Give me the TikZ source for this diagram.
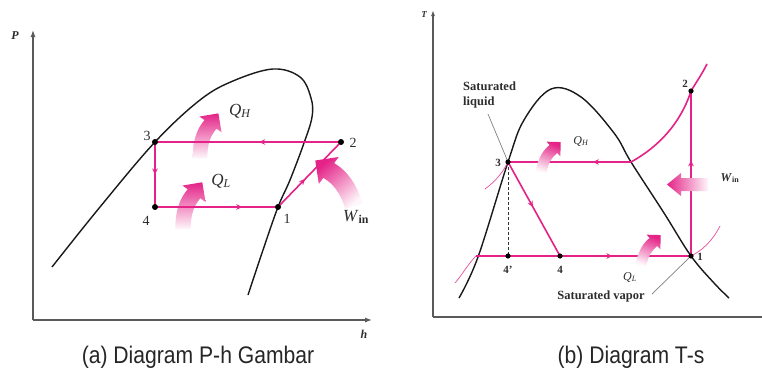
\documentclass[tikz,border=0pt]{standalone}
\usepackage{fontspec}
\setmainfont{Liberation Serif}
\newfontfamily\capfont[FakeStretch=0.88]{Liberation Sans}
\usetikzlibrary{arrows.meta,decorations.markings}
\definecolor{pk}{RGB}{228,34,135}
\definecolor{ink}{RGB}{45,45,45}
\definecolor{axisc}{RGB}{90,90,90}
\tikzset{
  cyc/.style={pk, line width=1.6pt},
  thinpk/.style={pk!80, line width=0.7pt},
  dome/.style={black!90, line width=1.4pt},
  axisline/.style={axisc, line width=1.2pt},
  midarr/.style={postaction={decorate}, decoration={markings, mark=at position #1 with {\arrow{Stealth[length=6pt,width=5.5pt]}}}},
  lab/.style={text=ink, inner sep=0pt, font=\fontsize{14}{16}\selectfont},
  labs/.style={text=ink, inner sep=0pt, font=\bfseries\fontsize{11}{13}\selectfont},
  capt/.style={text=black!85, inner sep=0pt, anchor=base, font=\capfont\fontsize{24}{28}\selectfont},
  leader/.style={gray, line width=0.7pt},
}
\newcommand\fatarr[5]{%
  \begin{scope}[shift={#1}, yscale=-1, rotate=#2, scale=#3, xscale=#4]
    \shade[top color=pk, bottom color=pk!4, shading angle=#5]
      (-7,0) .. controls (-7,20) and (-1,30) .. (4.3,36.1) -- (-0.5,39.5) -- (17.5,42.5)
      -- (20.5,24.5) -- (15.7,27.9) .. controls (10,21) and (7,14) .. (7,0) -- cycle;
  \end{scope}}
\newcommand\qsub[2]{\textit{#1}\textsubscript{\textit{#2}}}
\begin{document}
\begin{tikzpicture}[x=1pt, y=-1pt]
\useasboundingbox (0,0) rectangle (762,372);
\fill[white] (0,0) rectangle (762,372);

% ================= (a) P-h =================
\coordinate (oa) at (33,320);
\coordinate (pa) at (33,30);
\coordinate (ha) at (372,320);
\draw[axisline, -{Latex[length=7pt,width=5pt]}] (oa) -- (pa);
\draw[axisline, -{Latex[length=7pt,width=5pt]}] (oa) -- (ha);
\node[lab, font=\itshape\bfseries\fontsize{12}{14}\selectfont] (lP) at (15,36) {P};
\node[lab, font=\itshape\bfseries\fontsize{12}{14}\selectfont] (lh) at (364,334) {h};

\draw[dome] plot[smooth, tension=0.6] coordinates {(52,267) (100,207) (155,142) (200,100) (233,81) (273,69) (300,77) (311,98) (312,117) (304,143) (290,180) (278,207) (263,250) (248,295)};

\coordinate (a1) at (278,207);
\coordinate (a2) at (341,142);
\coordinate (a3) at (155,142);
\coordinate (a4) at (155,207);

\fatarr{(200,158)}{0}{1.05}{1}{0}
\fatarr{(183,229)}{0}{1.1}{1}{0}

\draw[cyc, midarr=0.44] (a2) -- (a3);
\draw[cyc, midarr=0.5] (a3) -- (a4);
\draw[cyc, midarr=0.71] (a4) -- (a1);
\draw[cyc, midarr=0.43] (a1) -- (a2);

\fatarr{(354,206)}{-18}{1.3}{-1}{40}

\foreach \p in {a1,a2,a3,a4} \fill[black] (\p) circle (3);

\node[lab] (la3) at (147,136) {3};
\node[lab] (la2) at (353,143) {2};
\node[lab] (la4) at (146,221) {4};
\node[lab] (la1) at (287,219) {1};
\node[lab, font=\fontsize{17}{19}\selectfont] (lQHa) at (240,111) {\qsub{Q}{H}};
\node[lab, font=\fontsize{17}{19}\selectfont] (lQLa) at (221,181) {\qsub{Q}{L}};
\node[lab, font=\fontsize{17}{19}\selectfont] (lWa) at (356,217) {\textit{W}\textsubscript{\textbf{in}}};

\node[capt] (capa) at (198,363) {(a) Diagram P-h Gambar};

% ================= (b) T-s =================
\coordinate (ob) at (433,317);
\coordinate (tb) at (433,10);
\coordinate (sb) at (762,317);
\draw[axisline, -{Latex[length=6pt,width=4pt]}] (ob) -- (tb);
\draw[axisline] (ob) -- (sb);
\node[lab, font=\itshape\bfseries\fontsize{9}{11}\selectfont] (lT) at (424,15) {T};

\draw[dome] plot[smooth, tension=0.6] coordinates {(459,298) (478,257) (508,162) (524,120) (551,89) (581,97) (614,133) (631,162) (664,213) (691,256) (714,283) (729,298)};

\coordinate (b1) at (691,256);
\coordinate (b2) at (691,91);
\coordinate (b3) at (508,162);
\coordinate (b4) at (560,256);
\coordinate (b4p) at (508,256);
\coordinate (bg) at (631,162);
\coordinate (bl) at (476,256);
\coordinate (b2e) at (707,64);

% thin constant-pressure arcs
\draw[thinpk] (485,189) .. controls (496,181) and (503,172) .. (b3);
\draw[thinpk] (455,283) .. controls (462,275) and (468,264) .. (bl);
\draw[thinpk] (b1) .. controls (703,250) and (713,240) .. (720,226);

\draw[leader] (488,114) -- (b3);
\draw[leader] (652,294) -- (b1);
\draw[black!80, line width=1pt, dash pattern=on 3pt off 2pt] (b3) -- (b4p);

\draw[cyc, midarr=0.31] (bg) -- (b3);
\draw[cyc] (bg) .. controls (660,146) and (681,122) .. (b2) .. controls (697,81) and (702,74) .. (b2e);
\draw[cyc, midarr=0.48] (b3) -- (b4);
\draw[cyc] (bl) -- (b4);
\draw[cyc, midarr=0.4] (b4) -- (b1);
\draw[cyc, midarr=0.58] (b1) -- (b2);

\fatarr{(541,172)}{11}{0.78}{1}{-20}
\fatarr{(641,265)}{11}{0.78}{1}{-20}
\shade[left color=pk, right color=pk!4] (708,178) -- (681,178) -- (681,173) -- (667,184.5) -- (681,196) -- (681,191) -- (708,191) -- cycle;

\foreach \p in {b1,b2,b3,b4,b4p} \fill[black] (\p) circle (2.6);

\node[labs, align=left, anchor=north west, font=\bfseries\fontsize{12.5}{14.5}\selectfont] (lsl) at (463,82) {Saturated\\liquid};
\node[labs, font=\bfseries\fontsize{12.5}{14.5}\selectfont] (lsv) at (601,296) {Saturated vapor};
\node[labs] (lb3) at (498,163) {3};
\node[labs] (lb2) at (685,84) {2};
\node[labs] (lb1) at (700,257) {1};
\node[labs] (lb4p) at (508,270) {4'};
\node[labs] (lb4) at (560,270) {4};
\node[lab, font=\fontsize{12}{14}\selectfont] (lQHb) at (581,141) {\qsub{Q}{H}};
\node[lab, font=\fontsize{12}{14}\selectfont] (lQLb) at (630,277) {\qsub{Q}{L}};
\node[lab, font=\bfseries\fontsize{12}{14}\selectfont] (lWb) at (730,178) {\textit{W}\textsubscript{in}};

\node[capt] (capb) at (631,363) {(b) Diagram T-s};
\end{tikzpicture}
\end{document}
